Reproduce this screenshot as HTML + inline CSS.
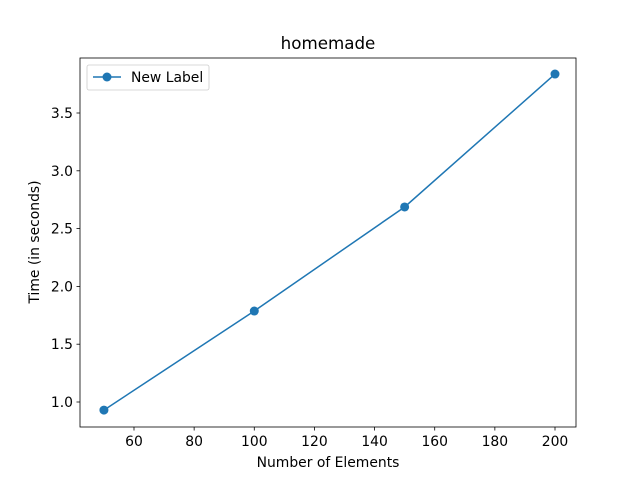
<!DOCTYPE html>
<html><head><meta charset="utf-8"><style>
body{margin:0;background:#fff;}
svg text{font-family:"DejaVu Sans","Liberation Sans",sans-serif;fill:#000;}
</style></head><body>
<svg id="chart" width="640" height="480" viewBox="0 0 640 480">
<rect width="640" height="480" fill="#fff"/>
<text x="328" y="49" font-size="16.7" text-anchor="middle">homemade</text>
<g id="xt"></g><g id="yt"></g>
<polyline id="line" fill="none" stroke="#1f77b4" stroke-width="1.5"/>
<g id="pts"></g>
<rect x="80" y="58" width="496" height="369" fill="none" stroke="#000" stroke-width="0.8"/>
<text x="328" y="467" font-size="13.9" text-anchor="middle">Number of Elements</text>
<text x="0" y="0" font-size="13.9" text-anchor="middle" transform="translate(39,242) rotate(-90)">Time (in seconds)</text>
<g>
<rect x="87" y="65" width="122" height="25" rx="2" fill="#fff" stroke="#ccc" stroke-width="0.8"/>
<line x1="93" y1="77" x2="121" y2="77" stroke="#1f77b4" stroke-width="1.5"/>
<circle cx="107" cy="77" r="4.5" fill="#1f77b4"/>
<text x="131" y="82" font-size="13.9">New Label</text>
</g>
</svg>
<script>
const categories=[50,100,150,200];
const values=[0.93,1.787,2.687,3.837];
const xTicks=[60,80,100,120,140,160,180,200];
const yTicks=[1.0,1.5,2.0,2.5,3.0,3.5];
const NS="http://www.w3.org/2000/svg";
function xs(v){return 134+(v-60)*(421/140);}
function ys(v){return 402-(v-1)*115.6;}
const xt=document.getElementById('xt'),yt=document.getElementById('yt'),pts=document.getElementById('pts');
function mk(tag,attrs,parent){const e=document.createElementNS(NS,tag);for(const k in attrs)e.setAttribute(k,attrs[k]);parent.appendChild(e);return e;}
xTicks.forEach(t=>{const x=xs(t);
 const l=mk('line',{x1:x,x2:x,y1:427,y2:430.5,stroke:'#000','stroke-width':0.8},xt);
 
 
 const tx=mk('text',{x:x,y:446,'font-size':13.9,'text-anchor':'middle'},xt);tx.textContent=t;
 
 });
yTicks.forEach(t=>{const y=ys(t);
 const l=mk('line',{x1:76.5,x2:80,y1:y,y2:y,stroke:'#000','stroke-width':0.8},yt);
 
 
 const tx=mk('text',{x:73,y:y+5,'font-size':13.9,'text-anchor':'end'},yt);tx.textContent=t.toFixed(1);
 
 });
document.getElementById('line').setAttribute('points',categories.map((c,i)=>xs(c)+','+ys(values[i])).join(' '));
categories.forEach((c,i)=>{const p=mk('circle',{cx:xs(c),cy:ys(values[i]),r:4.5,fill:'#1f77b4'},pts);
 
 });
</script>
</body></html>
